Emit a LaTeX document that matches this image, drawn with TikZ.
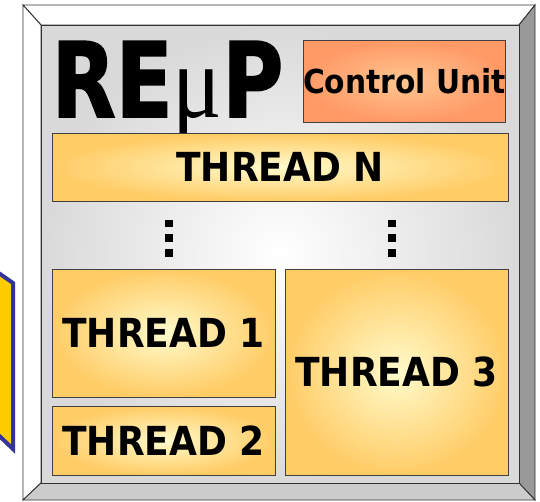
\documentclass[tikz,border=0pt]{standalone}
\usepackage{fontspec}
\newfontfamily\labelfont{DejaVu Sans Condensed Bold}
\newfontfamily\titlefont[FakeBold=1.5]{DejaVu Sans Condensed Bold}
\newfontfamily\greekfont{Liberation Serif}

\definecolor{framestroke}{HTML}{333333}
\definecolor{bevelright}{HTML}{999999}
\definecolor{bevelbottom}{HTML}{CCCCCC}
\definecolor{faceedge}{HTML}{D9D9D9}
\definecolor{threadedge}{HTML}{FFCC66}
\definecolor{threadlight}{HTML}{FFFBCC}
\definecolor{unitedge}{HTML}{FF9966}
\definecolor{unitlight}{HTML}{FFC690}
\definecolor{boxline}{HTML}{404040}
\definecolor{signyellow}{HTML}{FFCC00}
\definecolor{signblue}{HTML}{333399}

\tikzset{
  bevel/.style={draw=framestroke, line width=0.9pt, line join=miter},
  threadbox/.style={draw=boxline, line width=0.9pt, inner sep=0pt,
    inner color=threadlight, outer color=threadedge,
    font=\labelfont\fontsize{40}{40}\selectfont},
  unitbox/.style={draw=boxline, line width=0.9pt, inner sep=0pt,
    inner color=unitlight, outer color=unitedge,
    font=\labelfont\fontsize{33}{33}\selectfont},
  dotsq/.style={fill=black},
}

\begin{document}
\begin{tikzpicture}[x=1pt,y=-1pt]
  \clip (0,0) rectangle (540,501);
  \fill[white] (0,0) rectangle (540,501);

  % panel peeking in at the left edge
  \filldraw[fill=signyellow, draw=signblue, line width=4pt, line join=miter]
    (-10,267) -- (13,283) -- (13,449) -- (-10,427) -- cycle;

  % corners of the bevelled frame
  \coordinate (oa) at (23,5);
  \coordinate (ob) at (535,5);
  \coordinate (oc) at (535,500);
  \coordinate (od) at (23,500);
  \coordinate (ia) at (41,25);
  \coordinate (ib) at (519,25);
  \coordinate (ic) at (519,483);
  \coordinate (id) at (41,483);

  % bevel faces
  \path[bevel, fill=white] (oa) -- (ob) -- (ib) -- (ia) -- cycle;
  \path[bevel, fill=white] (oa) -- (ia) -- (id) -- (od) -- cycle;
  \path[bevel, fill=bevelright] (ob) -- (oc) -- (ic) -- (ib) -- cycle;
  \path[bevel, fill=bevelbottom] (od) -- (id) -- (ic) -- (oc) -- cycle;
  % recessed face
  \path[bevel, inner color=white, outer color=faceedge] (ia) rectangle (ic);

  % title
  \node[anchor=base, inner sep=0pt] (title) at (167.5,117)
    {\scalebox{0.89}[1]{\titlefont\fontsize{104}{104}\selectfont RE{\greekfont μ}P}};

  % blocks
  \node[unitbox, minimum width=201pt, minimum height=82pt] (cu) at (404.5,81) {Control Unit};
  \node[threadbox, minimum width=456pt, minimum height=68pt] (tn) at (280,167) {THREAD N};
  \node[threadbox, minimum width=223pt, minimum height=128pt] (t1) at (163.5,333) {THREAD 1};
  \node[threadbox, minimum width=223pt, minimum height=69pt] (t2) at (163.5,440.5) {THREAD 2};
  \node[threadbox, minimum width=223pt, minimum height=206pt] (t3) at (396.5,372) {THREAD 3};

  % vertical ellipses between THREAD N and the lower threads
  \foreach \cx in {169,392}{
    \foreach \cy in {223.5,238,253}{
      \fill[dotsq] (\cx-3.7,\cy-3.7) rectangle (\cx+3.7,\cy+3.7);
    }
  }
\end{tikzpicture}
\end{document}
